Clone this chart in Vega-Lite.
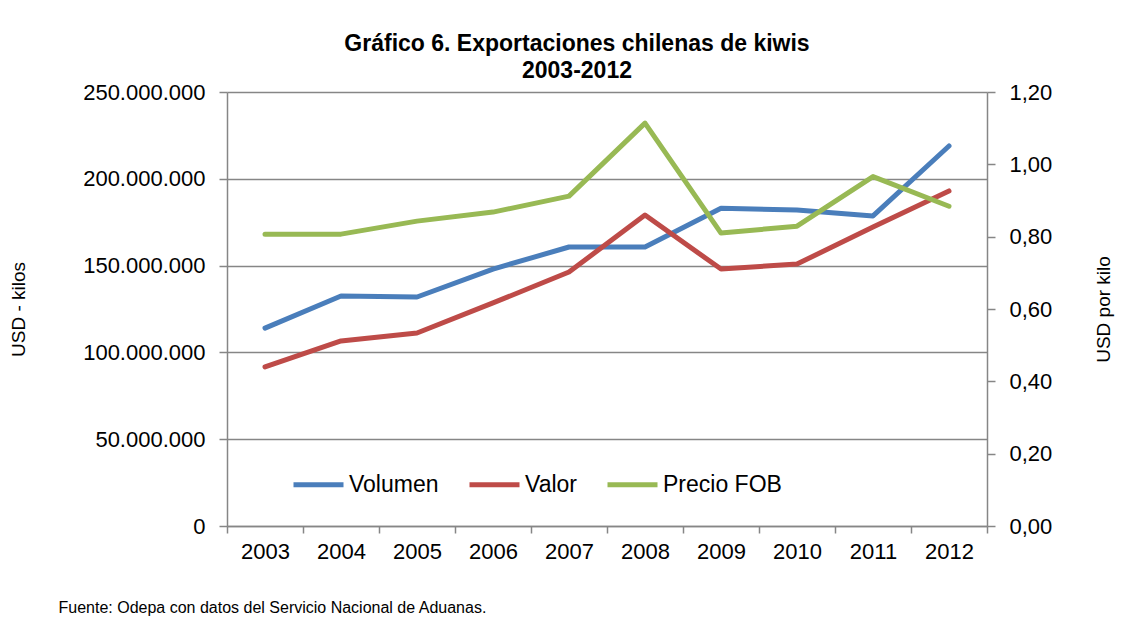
{
  "$schema": "https://vega.github.io/schema/vega-lite/v6.json",
  "width": 760,
  "height": 434,
  "autosize": "none",
  "padding": {"left": 227, "top": 92, "right": 155, "bottom": 109},
  "background": "white",
  "config": {
    "locale": {"number": {"decimal": ",", "thousands": ".", "grouping": [3], "currency": ["$", ""]}},
    "font": "Liberation Sans",
    "view": {"stroke": null},
    "axis": {
      "labelFont": "Liberation Sans",
      "labelFontSize": 22,
      "labelColor": "#000000",
      "domainColor": "#868686",
      "domainWidth": 1.5,
      "tickColor": "#868686",
      "tickWidth": 1.5,
      "tickSize": 8,
      "titleFont": "Liberation Sans",
      "titleFontWeight": "normal",
      "titleColor": "#000000"
    }
  },
  "title": {
    "text": ["Gráfico 6. Exportaciones chilenas de kiwis", "2003-2012"],
    "font": "Liberation Sans",
    "fontSize": 23,
    "fontWeight": "bold",
    "color": "#000000",
    "anchor": "middle",
    "dx": -30,
    "offset": -2,
    "lineHeight": 27
  },
  "data": {
    "values": [
      {"anio": "2003", "serie": "Volumen", "valor": 114000000},
      {"anio": "2004", "serie": "Volumen", "valor": 132500000},
      {"anio": "2005", "serie": "Volumen", "valor": 131900000},
      {"anio": "2006", "serie": "Volumen", "valor": 148000000},
      {"anio": "2007", "serie": "Volumen", "valor": 160700000},
      {"anio": "2008", "serie": "Volumen", "valor": 160700000},
      {"anio": "2009", "serie": "Volumen", "valor": 183000000},
      {"anio": "2010", "serie": "Volumen", "valor": 182000000},
      {"anio": "2011", "serie": "Volumen", "valor": 178600000},
      {"anio": "2012", "serie": "Volumen", "valor": 218900000},
      {"anio": "2003", "serie": "Valor", "valor": 91600000},
      {"anio": "2004", "serie": "Valor", "valor": 106600000},
      {"anio": "2005", "serie": "Valor", "valor": 111200000},
      {"anio": "2006", "serie": "Valor", "valor": 128500000},
      {"anio": "2007", "serie": "Valor", "valor": 146300000},
      {"anio": "2008", "serie": "Valor", "valor": 179100000},
      {"anio": "2009", "serie": "Valor", "valor": 148000000},
      {"anio": "2010", "serie": "Valor", "valor": 150900000},
      {"anio": "2011", "serie": "Valor", "valor": 172200000},
      {"anio": "2012", "serie": "Valor", "valor": 193000000},
      {"anio": "2003", "serie": "Precio FOB", "valor": 0.807},
      {"anio": "2004", "serie": "Precio FOB", "valor": 0.807},
      {"anio": "2005", "serie": "Precio FOB", "valor": 0.843},
      {"anio": "2006", "serie": "Precio FOB", "valor": 0.868},
      {"anio": "2007", "serie": "Precio FOB", "valor": 0.912},
      {"anio": "2008", "serie": "Precio FOB", "valor": 1.114},
      {"anio": "2009", "serie": "Precio FOB", "valor": 0.81},
      {"anio": "2010", "serie": "Precio FOB", "valor": 0.829},
      {"anio": "2011", "serie": "Precio FOB", "valor": 0.966},
      {"anio": "2012", "serie": "Precio FOB", "valor": 0.884}
    ]
  },
  "encoding": {
    "x": {
      "field": "anio",
      "type": "ordinal",
      "bandPosition": 0.5,
      "scale": {"type": "band", "paddingInner": 0, "paddingOuter": 0},
      "axis": {
        "labelAngle": 0,
        "tickBand": "extent",
        "tickSize": 7,
        "labelPadding": 8,
        "title": "Fuente: Odepa con datos del Servicio Nacional de Aduanas.",
        "titleFontSize": 16,
        "titleAlign": "left",
        "titleAnchor": "start",
        "titleBaseline": "alphabetic",
        "titleX": -169,
        "titleY": 86
      }
    },
    "color": {
      "field": "serie",
      "type": "nominal",
      "scale": {
        "domain": ["Volumen", "Valor", "Precio FOB"],
        "range": ["#4A7EBB", "#BE4B48", "#98B954"]
      },
      "legend": {
        "title": null,
        "orient": "none",
        "direction": "horizontal",
        "legendX": 64,
        "legendY": 365,
        "symbolType": "stroke",
        "symbolSize": 2500,
        "symbolStrokeWidth": 5,
        "labelFontSize": 23,
        "labelFont": "Liberation Sans",
        "labelColor": "#000000",
        "labelOffset": 3,
        "columnPadding": 20,
        "labelLimit": 300
      }
    }
  },
  "layer": [
    {
      "transform": [{"filter": "datum.serie !== 'Precio FOB'"}],
      "mark": {"type": "line", "strokeWidth": 5, "strokeCap": "round", "strokeJoin": "round"},
      "encoding": {
        "y": {
          "field": "valor",
          "type": "quantitative",
          "scale": {"domain": [0, 250000000], "nice": false, "zero": true},
          "axis": {
            "values": [0, 50000000, 100000000, 150000000, 200000000, 250000000],
            "format": ",.0f",
            "grid": true,
            "gridColor": "#868686",
            "gridWidth": 1.3,
            "labelPadding": 14,
            "title": "USD - kilos",
            "titleFontSize": 19,
            "titleX": -209,
            "titleY": 217,
            "titleAlign": "center",
            "titleBaseline": "middle",
            "titleAngle": 270
          }
        }
      }
    },
    {
      "transform": [{"filter": "datum.serie === 'Precio FOB'"}],
      "mark": {"type": "line", "strokeWidth": 5, "strokeCap": "round", "strokeJoin": "round"},
      "encoding": {
        "y": {
          "field": "valor",
          "type": "quantitative",
          "scale": {"domain": [0, 1.2], "nice": false, "zero": true},
          "axis": {
            "orient": "right",
            "values": [0, 0.2, 0.4, 0.6, 0.8, 1.0, 1.2],
            "format": ".2f",
            "grid": false,
            "labelPadding": 14,
            "title": "USD por kilo",
            "titleFontSize": 19,
            "titleX": 116,
            "titleY": 217,
            "titleAlign": "center",
            "titleBaseline": "middle",
            "titleAngle": 270
          }
        }
      }
    }
  ],
  "resolve": {"scale": {"y": "independent"}}
}
